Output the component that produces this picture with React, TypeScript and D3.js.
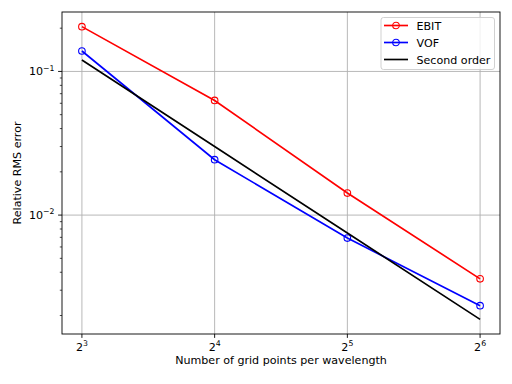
import React from 'react';
import * as d3 from 'd3';

const gridPoints = [8, 16, 32, 64];
const ebitError = [0.205, 0.0628, 0.01424, 0.0036];
const vofError = [0.1387, 0.0243, 0.00692, 0.00234];
const secondOrder = [0.12, 0.03, 0.0075, 0.00188];

const xTickExps = [3, 4, 5, 6];
const yTickExps = [-1, -2];

const series = [
  { name: 'EBIT', values: ebitError, color: '#ff0000', marker: true },
  { name: 'VOF', values: vofError, color: '#0000ff', marker: true },
  { name: 'Second order', values: secondOrder, color: '#000000', marker: false },
];

const W = 512;
const H = 384;
const left = 62;
const right = 500;
const top = 12;
const bottom = 334;
const FONT = 'DejaVu Sans, sans-serif';
const FS = 11.1;

function App() {
  // matplotlib style 5% margins in log space
  const lx = d3.extent(gridPoints.map(Math.log2)) as [number, number];
  const mx = (lx[1] - lx[0]) * 0.05;
  const allY = [...ebitError, ...vofError, ...secondOrder].map(Math.log10);
  const ly = d3.extent(allY) as [number, number];
  const my = (ly[1] - ly[0]) * 0.05;

  const x = d3.scaleLog().base(2)
    .domain([2 ** (lx[0] - mx), 2 ** (lx[1] + mx)])
    .range([left, right]);
  const y = d3.scaleLog()
    .domain([10 ** (ly[0] - my), 10 ** (ly[1] + my)])
    .range([bottom, top]);

  const line = d3.line<number>()
    .x((_, i) => x(gridPoints[i]))
    .y(d => y(d));

  // minor ticks on y
  const [y0, y1] = y.domain();
  const minor: number[] = [];
  for (let e = Math.floor(Math.log10(y0)); e <= Math.ceil(Math.log10(y1)); e++) {
    for (let m = 2; m <= 9; m++) {
      const v = m * 10 ** e;
      if (v >= y0 && v <= y1) minor.push(v);
    }
  }

  return (
    <svg width={W} height={H} style={{ position: 'absolute', left: 0, top: 0, background: '#fff' }}
      fontFamily={FONT}>
      <rect x={0} y={0} width={W} height={H} fill="#fff" />
      {/* grid */}
      {xTickExps.map(e => (
        <line key={'gx' + e} x1={x(2 ** e)} x2={x(2 ** e)} y1={top} y2={bottom}
          stroke="#b0b0b0" strokeWidth={0.9} />
      ))}
      {yTickExps.map(e => (
        <line key={'gy' + e} x1={left} x2={right} y1={y(10 ** e)} y2={y(10 ** e)}
          stroke="#b0b0b0" strokeWidth={0.9} />
      ))}
      {/* series */}
      {series.map(s => (
        <g key={s.name}>
          <path d={line(s.values) || ''} fill="none" stroke={s.color} strokeWidth={1.67} />
          {s.marker && s.values.map((v, i) => (
            <circle key={i} cx={x(gridPoints[i])} cy={y(v)} r={3.3} fill="none"
              stroke={s.color} strokeWidth={1.1} />
          ))}
        </g>
      ))}
      {/* spines */}
      <rect x={left} y={top} width={right - left} height={bottom - top} fill="none"
        stroke="#000" strokeWidth={0.9} />
      {/* x ticks */}
      {xTickExps.map(e => (
        <g key={'xt' + e} transform={`translate(${x(2 ** e)},${bottom})`}>
          <line y1={0} y2={3.9} stroke="#000" strokeWidth={0.9} />
          <text y={17} textAnchor="middle" fontSize={FS} fill="#000">
            2<tspan fontSize={FS * 0.7} dy={-4.6}>{e}</tspan>
          </text>
        </g>
      ))}
      {/* y ticks */}
      {yTickExps.map(e => (
        <g key={'yt' + e} transform={`translate(${left},${y(10 ** e)})`}>
          <line x1={0} x2={-3.9} stroke="#000" strokeWidth={0.9} />
          <text x={-7.5} y={4} textAnchor="end" fontSize={FS} fill="#000">
            10<tspan fontSize={FS * 0.7} dy={-4.6}>{'\u2212' + Math.abs(e)}</tspan>
          </text>
        </g>
      ))}
      {minor.map((v, i) => (
        <line key={'mt' + i} x1={left} x2={left - 2.2} y1={y(v)} y2={y(v)}
          stroke="#000" strokeWidth={0.7} />
      ))}
      {/* axis labels */}
      <text x={(left + right) / 2} y={364} textAnchor="middle" fontSize={FS} fill="#000">
        Number of grid points per wavelength
      </text>
      <text transform={`translate(21,${(top + bottom) / 2}) rotate(-90)`} textAnchor="middle"
        fontSize={FS} fill="#000">
        Relative RMS error
      </text>
      {/* legend */}
      <g transform="translate(381,17.5)">
        <rect x={0} y={0} width={113.5} height={52} rx={2.5} fill="#fff" fillOpacity={0.8}
          stroke="#cccccc" strokeWidth={0.9} />
        {series.map((s, i) => (
          <g key={s.name} transform={`translate(0,${8 + i * 17})`}>
            <line x1={3} x2={27} y1={0} y2={0} stroke={s.color} strokeWidth={1.67} />
            {s.marker && <circle cx={15} cy={0} r={3.3} fill="none" stroke={s.color} strokeWidth={1.1} />}
            <text x={35.5} y={4} fontSize={FS} fill="#000">{s.name}</text>
          </g>
        ))}
      </g>
    </svg>
  );
}

export default App;
